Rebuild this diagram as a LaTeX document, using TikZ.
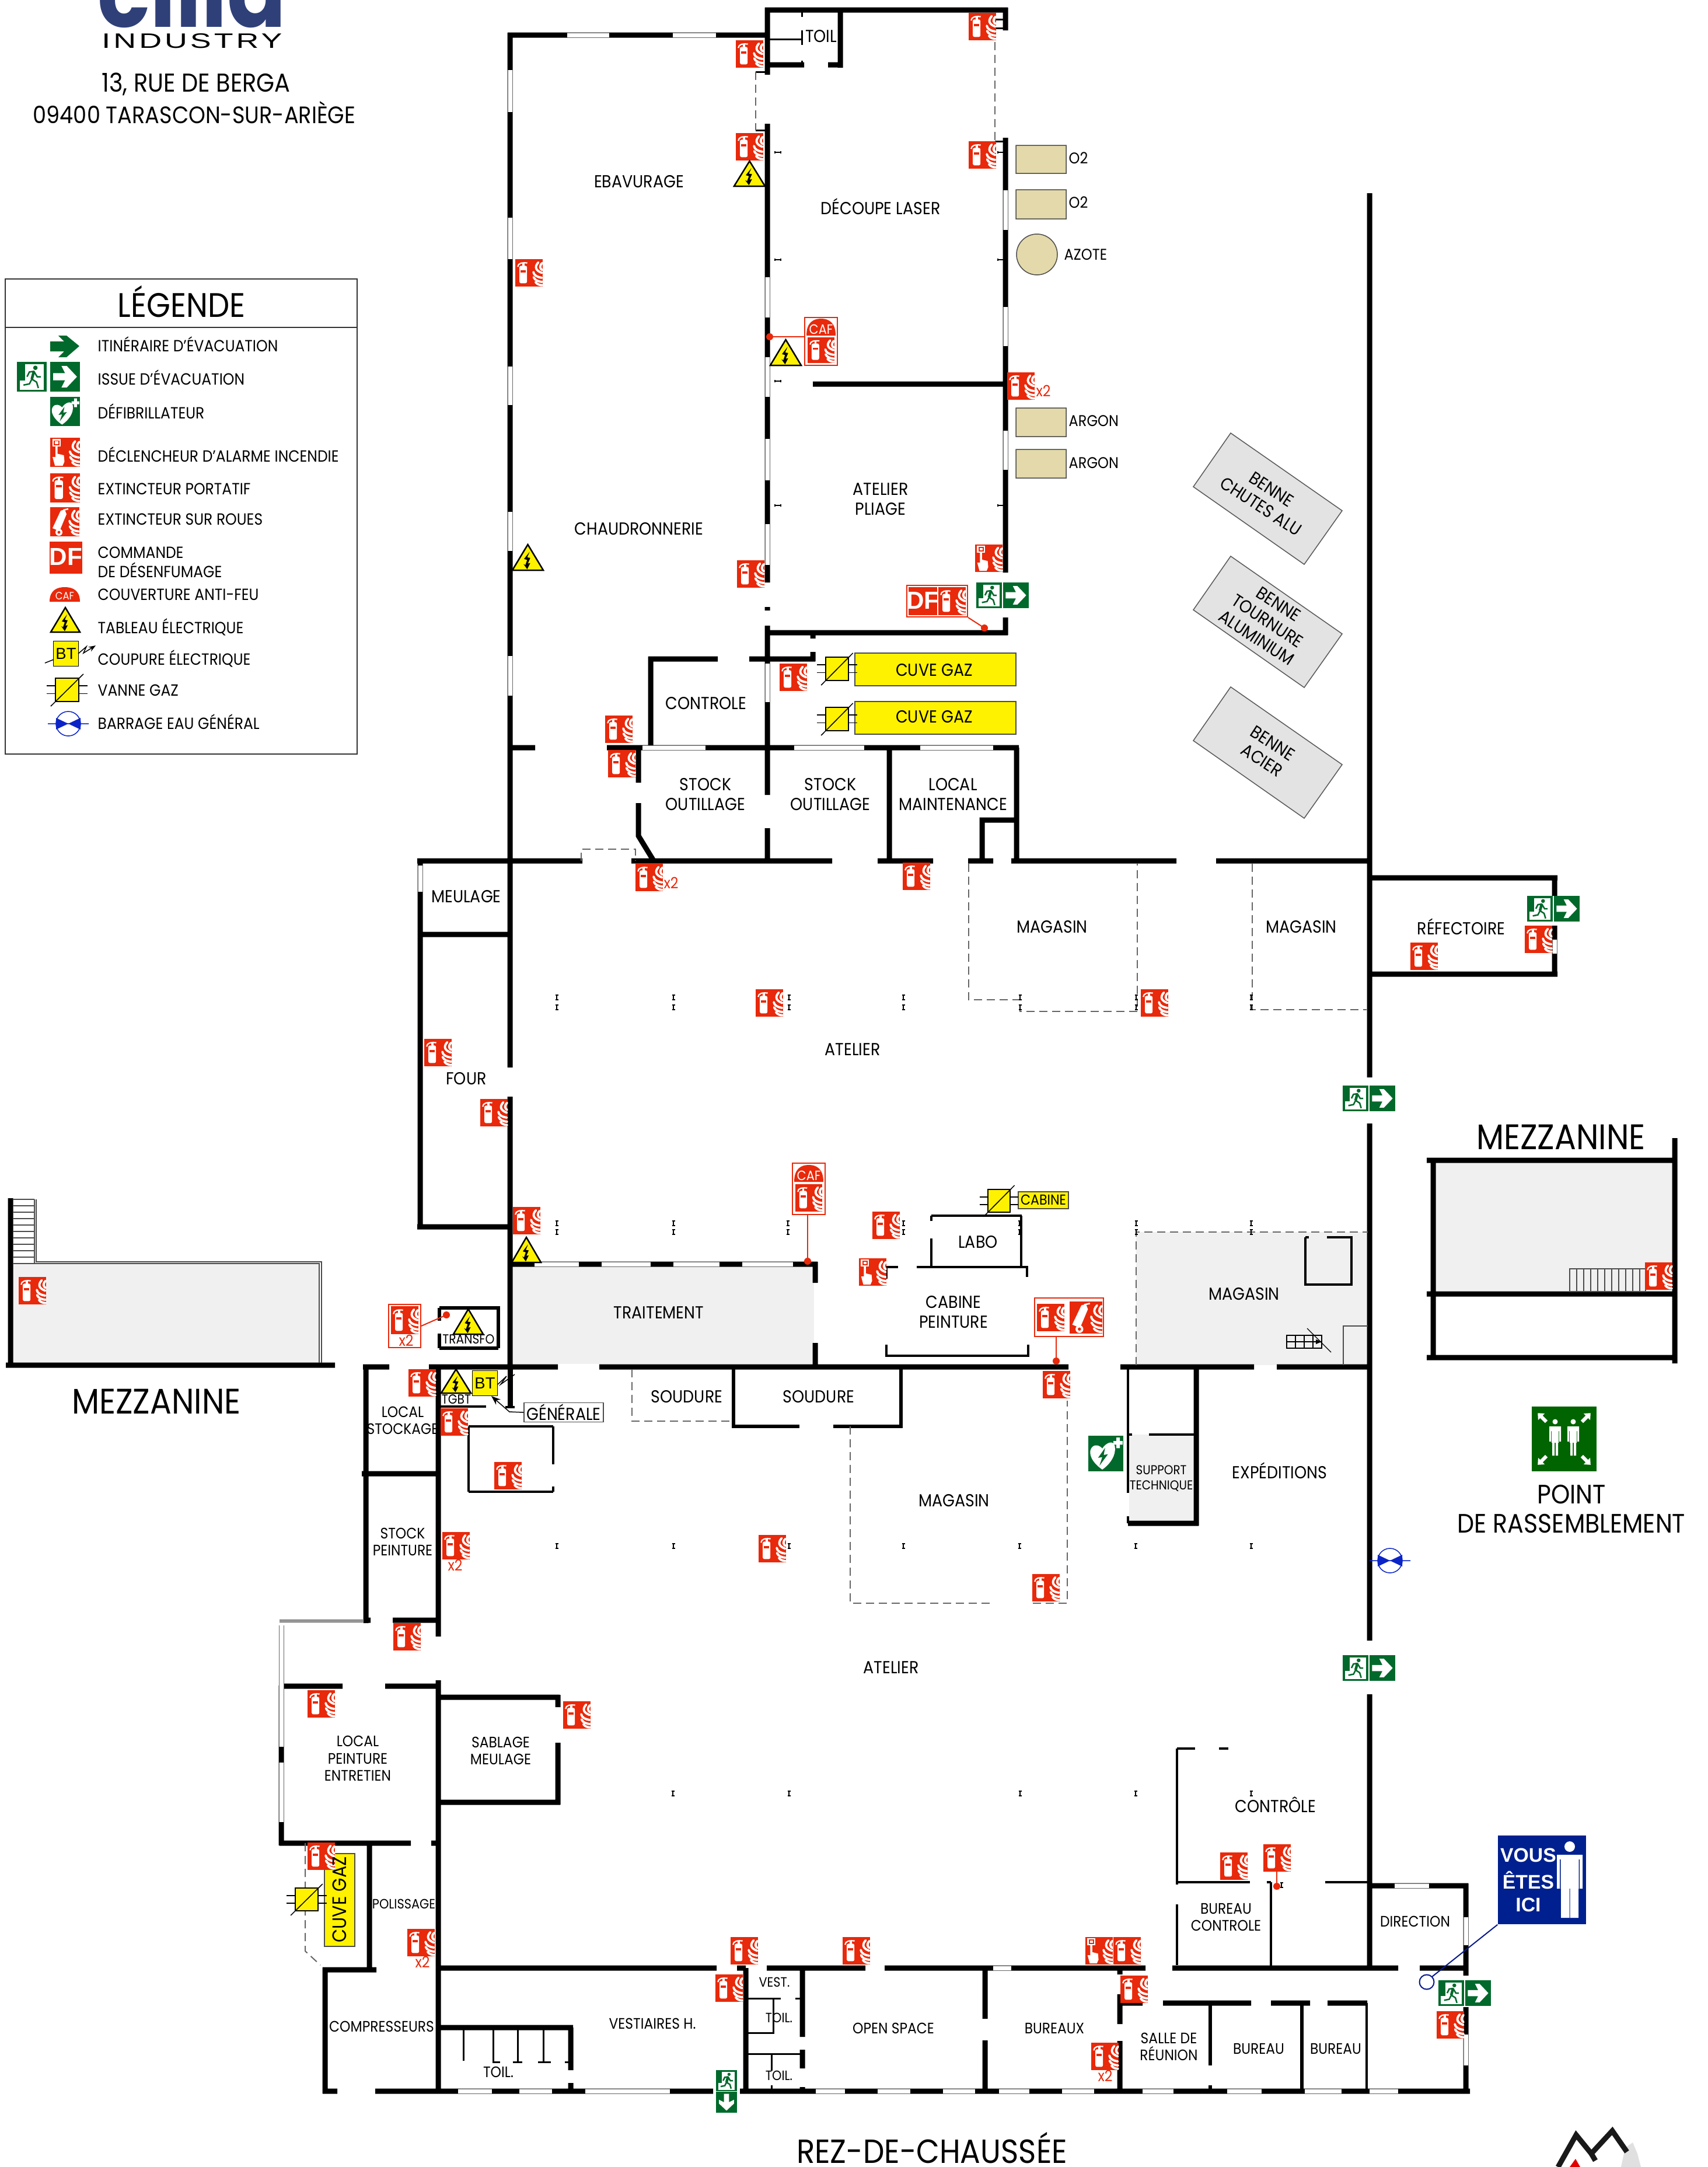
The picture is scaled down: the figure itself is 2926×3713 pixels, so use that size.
\documentclass[tikz,border=0pt]{standalone}
\usepackage{fontspec}
\setmainfont[FakeStretch=0.9]{Poppins}
\newfontfamily\indf[FakeStretch=1.5,LetterSpace=14]{Liberation Sans}
\newfontfamily\ars{Liberation Sans}
\usetikzlibrary{arrows.meta}
\definecolor{sred}{HTML}{E8290B}
\definecolor{sgreen}{HTML}{00692B}
\definecolor{ptgreen}{HTML}{006400}
\definecolor{tank}{HTML}{E3D9AA}
\definecolor{bgrey}{HTML}{F0F0F0}
\definecolor{bluesign}{HTML}{00208F}
\definecolor{valveb}{HTML}{0A24C8}
\definecolor{logob}{HTML}{2F4078}
\newcounter{nn}
\newcommand\sz[1]{\pgfmathsetmacro\lsk{#1*1.14}\fontsize{#1}{\lsk}\selectfont}
\tikzset{
 wall/.style={line width=0.9mm,black},
 wallm/.style={line width=0.6mm,black},
 walls/.style={line width=0.35mm,black},
 dashw/.style={line width=0.2mm,black!60,dash pattern=on 1.4mm off 0.8mm},
 winw/.style={line width=0.75mm,white},
 lab/.style={inner sep=0pt,align=center,text=black},
 leader/.style={line width=0.2mm,sred},
 redbox/.style={draw=sred,line width=0.2mm,fill=white,inner sep=0pt},
 thinl/.style={line width=0.15mm,black},
}
\newcommand\lb[4][8.5]{\stepcounter{nn}\node[lab,font=\sz{#1}] (t\arabic{nn}) at (#2,#3) {#4};}
\newcommand\lbase[4][8.5]{\stepcounter{nn}\node[inner sep=0pt,anchor=base,font=\sz{#1}] (t\arabic{nn}) at (#2,#3) {#4};}
\newcommand\lf[4][7.9]{\stepcounter{nn}\node[lab,anchor=west,font=\sz{#1}] (t\arabic{nn}) at (#2,#3) {#4};}
\newcommand\hw[3]{\draw[winw] (#2,#1) -- (#3,#1); \draw[line width=0.1mm,black!60] (#2,#1-4) -- (#3,#1-4) (#2,#1+4) -- (#3,#1+4);}
\newcommand\vw[3]{\draw[winw] (#1,#2) -- (#1,#3); \draw[line width=0.1mm,black!60] (#1+4,#2) -- (#1+4,#3) (#1-4,#2) -- (#1-4,#3);}
\newcommand\flames{%
 \draw[white,line width=0.38mm,line cap=round]
 (0.84,0.12) .. controls (0.68,0.3) and (0.76,0.42) .. (0.97,0.5)
 (0.98,0.14) .. controls (0.87,0.26) and (0.9,0.34) .. (0.98,0.4)
 (0.66,0.47) .. controls (0.68,0.6) and (0.82,0.66) .. (0.97,0.68)
 (0.67,0.66) .. controls (0.72,0.78) and (0.86,0.82) .. (0.98,0.83)
 (0.74,0.84) .. controls (0.8,0.92) and (0.9,0.95) .. (0.98,0.95);}
\newcommand\icoExt[4]{\begin{scope}[shift={(#1,#2)},xscale=#3,yscale=#4]
 \fill[sred] (0,0) rectangle (1,1);
 \fill[white,rounded corners=0.3mm] (0.15,0.24) rectangle (0.43,0.88);
 \fill[white] (0.25,0.14) rectangle (0.33,0.25);
 \fill[sred] (0.19,0.4) rectangle (0.39,0.48);
 \draw[white,line width=0.22mm] (0.09,0.28) .. controls (0.1,0.14) and (0.25,0.12) .. (0.44,0.14);
 \flames
\end{scope}}
\newcommand\icoAlarm[4]{\begin{scope}[shift={(#1,#2)},xscale=#3,yscale=#4]
 \fill[sred] (0,0) rectangle (1,1);
 \fill[white] (0.07,0.04) rectangle (0.36,0.3);
 \fill[sred] (0.12,0.09) rectangle (0.31,0.25);
 \fill[white] (0.16,0.12) rectangle (0.27,0.22);
 \fill[white] (0.18,0.3) -- (0.25,0.3) -- (0.25,0.55) -- (0.46,0.6) -- (0.48,0.82) -- (0.42,0.96) -- (0.16,0.96) -- (0.08,0.66) -- (0.18,0.66) -- cycle;
 \flames
\end{scope}}
\newcommand\icoWheel[4]{\begin{scope}[shift={(#1,#2)},xscale=#3,yscale=#4]
 \fill[sred] (0,0) rectangle (1,1);
 \fill[white] (0.08,0.72) -- (0.36,0.12) -- (0.5,0.08) -- (0.56,0.24) -- (0.32,0.82) -- cycle;
 \fill[white] (0.3,0.86) circle[radius=0.12];
 \fill[sred] (0.3,0.86) circle[radius=0.05];
 \draw[white,line width=0.25mm] (0.45,0.1) -- (0.62,0.06);
 \flames
\end{scope}}
\newcommand\icoMan[4]{\begin{scope}[shift={(#1,#2)},xscale=#3,yscale=#4]
 \fill[sgreen] (0,0) rectangle (1,1);
 \fill[white] (0.1,0.08) rectangle (0.9,0.94);
 \fill[sgreen] (0.1,0.08) rectangle (0.28,0.62);
 \fill[sgreen] (0.62,0.2) circle[radius=0.075];
 \draw[sgreen,line width=0.45mm] (0.57,0.32) -- (0.5,0.58);
 \draw[sgreen,line width=0.25mm] (0.34,0.5) -- (0.42,0.34) -- (0.57,0.32) -- (0.68,0.5) -- (0.8,0.5)
   (0.5,0.58) -- (0.66,0.68) -- (0.72,0.88) (0.5,0.58) -- (0.42,0.74) -- (0.22,0.78);
\end{scope}}
\newcommand\icoArrow[4]{\begin{scope}[shift={(#1,#2)},xscale=#3,yscale=#4]
 \fill[sgreen] (0,0) rectangle (1,1);
 \fill[white] (0.1,0.38) -- (0.5,0.38) -- (0.38,0.14) -- (0.56,0.14) -- (0.9,0.5) -- (0.56,0.86) -- (0.38,0.86) -- (0.5,0.62) -- (0.1,0.62) -- cycle;
\end{scope}}
\newcommand\icoDown[4]{\begin{scope}[shift={(#1,#2)},xscale=#3,yscale=#4]
 \fill[sgreen] (0,0) rectangle (1,1);
 \fill[white] (0.38,0.1) -- (0.38,0.5) -- (0.14,0.38) -- (0.14,0.56) -- (0.5,0.9) -- (0.86,0.56) -- (0.86,0.38) -- (0.62,0.5) -- (0.62,0.1) -- cycle;
\end{scope}}
\newcommand\icoAED[4]{\begin{scope}[shift={(#1,#2)},xscale=#3,yscale=#4]
 \fill[sgreen] (0,0) rectangle (1,1);
 \fill[white] (0.4,0.95) .. controls (0.1,0.75) and (0,0.5) .. (0.08,0.36) .. controls (0.16,0.22) and (0.32,0.26) .. (0.4,0.36) .. controls (0.5,0.2) and (0.72,0.1) .. (0.76,0.3) .. controls (0.8,0.55) and (0.62,0.8) .. (0.4,0.95) -- cycle;
 \fill[sgreen] (0.48,0.34) -- (0.28,0.62) -- (0.4,0.6) -- (0.32,0.84) -- (0.56,0.52) -- (0.44,0.54) -- cycle;
 \fill[white] (0.8,0.05) rectangle (0.9,0.35) (0.72,0.15) rectangle (0.98,0.25);
\end{scope}}
\newcommand\icoTri[4]{\begin{scope}[shift={(#1,#2)},xscale=#3,yscale=#4]
 \filldraw[fill=yellow,draw=black,line width=0.25mm,line join=miter] (0.5,0) -- (1,1) -- (0,1) -- cycle;
 \fill[black] (0.56,0.28) -- (0.38,0.56) -- (0.48,0.6) -- (0.42,0.8) -- (0.36,0.76) -- (0.48,0.96) -- (0.58,0.72) -- (0.5,0.74) -- (0.58,0.52) -- (0.48,0.5) -- cycle;
\end{scope}}
\newcommand\icoVanne[4]{\begin{scope}[shift={(#1,#2)},xscale=#3,yscale=#4]
 \draw[thinl] (-0.38,0.33) -- (0,0.33) (-0.38,0.66) -- (0,0.66) (1,0.33) -- (1.38,0.33) (1,0.66) -- (1.38,0.66);
 \filldraw[fill=yellow,draw=black,line width=0.15mm] (0,0) rectangle (1,1);
 \draw[thinl] (-0.2,1.2) -- (1.2,-0.18);
\end{scope}}
\newcommand\icoCaf[5][6.6]{\begin{scope}[shift={(#2,#3)},xscale=#4,yscale=#5]
 \fill[sred] (0,1) .. controls (0,0.2) and (0.25,0) .. (0.5,0) .. controls (0.75,0) and (1,0.2) .. (1,1) -- cycle;
 \stepcounter{nn}\node[lab,text=white,font=\sz{#1}] (t\arabic{nn}) at (0.5,0.62) {CAF};
\end{scope}}
\newcommand\icoDF[4]{\begin{scope}[shift={(#1,#2)},xscale=#3,yscale=#4]
 \fill[sred] (0,0) rectangle (1,1);
 \stepcounter{nn}\node[lab,text=white,font=\ars\bfseries\fontsize{12}{13}\selectfont] (t\arabic{nn}) at (0.5,0.48) {DF};
\end{scope}}
\newcommand\icoBT[2]{\stepcounter{nn}\node[draw=black,line width=0.15mm,fill=yellow,inner sep=0pt,minimum width=43*0.1mm,minimum height=43*0.1mm,font=\ars\fontsize{7.8}{9}\selectfont] (t\arabic{nn}) at (#1+21,#2+21) {BT};}
\newcommand\icoValve[2]{\begin{scope}[shift={(#1,#2)}]
 \draw[valveb,line width=0.15mm] (-35,0) -- (35,0) (0,0) circle[radius=21];
 \fill[valveb] (-21,-10) -- (0,0) -- (-21,10) -- cycle (21,-10) -- (0,0) -- (21,10) -- cycle;
\end{scope}}
\begin{document}
\begin{tikzpicture}[x=0.1mm,y=-0.1mm,line cap=butt,line join=miter]
\useasboundingbox (0,0) rectangle (2926,3713);
\fill[white] (0,0) rectangle (2926,3713);

% --- header
\stepcounter{nn}\node[inner sep=0pt,text=logob,anchor=base,font=\bfseries\fontsize{47}{49}\selectfont] (logotext) at (329,46) {cilia};
\stepcounter{nn}\node[lab,font=\indf\fontsize{10.2}{11}\selectfont] (indus) at (329,70) {INDUSTRY};
\lb[12.6]{336}{144}{13, RUE DE BERGA}
\lb[11.6]{333}{193}{09400 TARASCON-SUR-ARIÈGE}

% --- legend
\draw[line width=0.2mm,black!80] (9,478) rectangle (612,1292) (9,561) -- (612,561);
\lb[16.6]{311}{517}{LÉGENDE}
\fill[sgreen] (86,585) -- (110,585) -- (100,575) -- (114,575) -- (136,593) -- (114,612) -- (100,612) -- (110,602) -- (86,602) -- cycle;
\icoMan{29}{620}{51}{51}\icoArrow{86}{620}{51}{51}
\icoAED{86}{680}{51}{50}
\icoAlarm{86}{750}{51}{50}
\icoExt{86}{811}{51}{50}
\icoWheel{86}{869}{50}{50}
\icoDF{85}{928}{56}{55}
\icoCaf[5.2]{85}{1006}{52}{25}
\icoTri{87}{1041}{50}{42}
\icoBT{92}{1099}
\draw[thinl] (77,1136) -- (92,1130);
\coordinate (lbt) at (134,1120);
\draw[thinl,-{Stealth[length=1.2mm]}] (lbt) -- (148,1108) -- (143,1119) -- (164,1106);
\icoVanne{95}{1162}{40}{40}
\icoValve{117}{1240}
\lf{167}{590}{ITINÉRAIRE D{\char39}ÉVACUATION}
\lf{167}{647}{ISSUE D{\char39}ÉVACUATION}
\lf{167}{705}{DÉFIBRILLATEUR}
\lf{167}{779}{DÉCLENCHEUR D{\char39}ALARME INCENDIE}
\lf{167}{838}{EXTINCTEUR PORTATIF}
\lf{167}{890}{EXTINCTEUR SUR ROUES}
\lf{167}{947}{COMMANDE}
\lf{167}{977}{DE DÉSENFUMAGE}
\lf{167}{1019}{COUVERTURE ANTI-FEU}
\lf{167}{1074}{TABLEAU ÉLECTRIQUE}
\lf{167}{1128}{COUPURE ÉLECTRIQUE}
\lf{167}{1183}{VANNE GAZ}
\lf{167}{1237}{BARRAGE EAU GÉNÉRAL}

% --- grey areas
\fill[bgrey] (879,2170) rectangle (1395,2337);
\fill[bgrey] (1947,2111) rectangle (2344,2339);
\fill[bgrey] (1935,2458) rectangle (2048,2610);
\fill[bgrey] (2456,1992) rectangle (2866,2212);
\fill[bgrey] (22,2165) rectangle (547,2335);

% --- benne
\foreach \d in {0,211,435}{
 \filldraw[fill=black!11,draw=black!65,line width=0.15mm] (2109,742+\d) -- (2300,875+\d) -- (2235,967+\d) -- (2045,834+\d) -- cycle;}
\node[lab,rotate=-33,font=\sz{8.6}] (benne1) at (2170,853) {BENNE\\CHUTES ALU};
\node[lab,rotate=-33,font=\sz{8.6}] (benne2) at (2172,1064) {BENNE\\TOURNURE\\ALUMINIUM};
\node[lab,rotate=-33,font=\sz{8.6}] (benne3) at (2172,1288) {BENNE\\ACIER};

% --- tanks
\filldraw[fill=tank,draw=black!70,line width=0.15mm] (1741,249) rectangle (1827,297) (1741,325) rectangle (1827,375) (1741,699) rectangle (1827,748) (1741,770) rectangle (1827,819) (1777,436) circle[radius=35];
\lf[7.6]{1831}{271}{O2}\lf[7.6]{1831}{347}{O2}\lf[7.6]{1823}{436}{AZOTE}\lf[7.6]{1831}{721}{ARGON}\lf[7.6]{1831}{793}{ARGON}

% --- cuves
\filldraw[fill=yellow,draw=black!70,line width=0.15mm] (1465,1119) rectangle (1741,1175) (1465,1202) rectangle (1741,1258) (556,3176) rectangle (608,3335) (1745,2042) rectangle (1831,2071);

% --- walls
\draw[wall]
 (870,60) -- (1315,60)
 (874,56) -- (874,1829) (874,1879) -- (874,2346)
 (1315,13) -- (1315,128) (1315,212) -- (1315,998) (1315,1040) -- (1315,1046) (1315,1072) -- (1315,1362) (1315,1419) -- (1315,1475)
 (1311,17) -- (1727,17) (1440,13) -- (1440,116)
 (1315,111) -- (1378,111) (1419,111) -- (1444,111)
 (1723,13) -- (1723,52) (1723,236) -- (1723,981) (1723,1058) -- (1723,1088)
 (1393,658) -- (1723,658) (1311,1084) -- (1727,1084)
 (874,1281) -- (917,1281)
 (1040,1281) -- (1746,1281)
 (1115,1125) -- (1115,1281)
 (1111,1129) -- (1230,1129) (1284,1129) -- (1397,1129)
 (1393,1117) -- (1393,1133) (1393,1088) -- (1393,1094)
 (1094,1281) -- (1094,1341) (1094,1376) -- (1094,1432) -- (1119,1473)
 (715,1475) -- (998,1475) (1082,1475) -- (1426,1475) (1504,1475) -- (1599,1475) (1659,1475) -- (1702,1475) (1733,1475) -- (2016,1475) (2084,1475) -- (2347,1475)
 (1524,1281) -- (1524,1475) (1742,1281) -- (1742,1475)
 (1683,1475) -- (1683,1405) -- (1746,1405)
 (720,1471) -- (720,2106) (716,1601) -- (874,1601) (715,2102) -- (874,2102)
 (2347,331) -- (2347,1846) (2347,1925) -- (2347,2811) (2347,2903) -- (2347,3371)
 (2347,1504) -- (2669,1504) (2664,1500) -- (2664,1535) (2664,1586) -- (2664,1673) (2347,1669) -- (2669,1669)
 (871,2166) -- (1401,2166)
 (1397,2162) -- (1397,2198) (1397,2301) -- (1397,2342)
 (735,2342) -- (956,2342) (1027,2342) -- (1831,2342) (1920,2342) -- (2149,2342) (2188,2342) -- (2351,2342)
 (622,2342) -- (667,2342) (627,2338) -- (627,2781) (620,2525) -- (751,2525) (623,2776) -- (635,2776) (673,2776) -- (755,2776)
 (751,2338) -- (751,2804) (751,2879) -- (751,3587)
 (479,2889) -- (587,2889) (660,2889) -- (751,2889)
 (482,2888) -- (482,3162) (479,3158) -- (704,3158) (739,3158) -- (751,3158)
 (633,3158) -- (633,3375) (553,3375) -- (645,3375)
 (557,3371) -- (557,3587)
 (553,3583) -- (578,3583) (643,3583) -- (1222,3583) (1268,3583) -- (2519,3583)
 (751,2908) -- (959,2908) (956,2904) -- (956,2925) (956,2986) -- (956,3092) (751,3088) -- (960,3088)
 (751,3372) -- (1228,3372) (1263,3372) -- (1278,3372) (1314,3372) -- (1483,3372) (1516,3372) -- (1963,3372) (2009,3372) -- (2396,3372) (2433,3372) -- (2516,3372)
 (1278,3372) -- (1278,3583)
 (1375,3372) -- (1375,3490) (1375,3512) -- (1375,3544) (1375,3576) -- (1375,3583)
 (1688,3372) -- (1688,3459) (1688,3496) -- (1688,3583)
 (751,3474) -- (982,3474) (978,3474) -- (978,3547) (978,3569) -- (978,3583)
 (2347,3231) -- (2516,3231) (2512,3227) -- (2512,3385) (2512,3439) -- (2512,3587)
 (1919,3372) -- (1919,3383) (1919,3417) -- (1919,3468) (1919,3497) -- (1919,3583)
 (1920,3432) -- (1958,3432) (1993,3432) -- (2144,3432) (2178,3432) -- (2245,3432) (2275,3432) -- (2343,3432)
 (2347,3231) -- (2347,3375)
 (2050,2342) -- (2050,2614)
 (1933,2610) -- (2054,2610)
 (2445,1988) -- (2870,1988) (2870,1950) -- (2870,2336) (2456,1988) -- (2456,2326) (2445,2217) -- (2870,2217) (2445,2326) -- (2870,2326)
 (18,2053) -- (18,2338) (10,2339) -- (574,2339);
\draw[wall,line width=0.6mm]
 (1257,2342) -- (1257,2447) (1254,2444) -- (1370,2444) (1428,2444) -- (1547,2444) (1544,2342) -- (1544,2447)
 (753,2241) -- (854,2241) (854,2238) -- (854,2310) (753,2310) -- (854,2310) (753,2241) -- (753,2263) (753,2285) -- (753,2310)
 (2074,3432) -- (2074,3539) (2074,3573) -- (2074,3583)
 (2231,3432) -- (2231,3583);
\draw[walls,line width=0.45mm]
 (803,2444) -- (948,2444) (948,2444) -- (948,2509) (948,2547) -- (948,2556) (803,2556) -- (948,2556) (803,2444) -- (803,2556)
 (1596,2083) -- (1751,2083) (1596,2083) -- (1596,2092) (1596,2122) -- (1596,2171) (1750,2083) -- (1750,2171)
 (1519,2171) -- (1539,2171) (1571,2171) -- (1762,2171) (1760,2171) -- (1760,2188) (1519,2171) -- (1519,2191)
 (1519,2304) -- (1519,2323) -- (1762,2323) -- (1762,2304)
 (2237,2120) -- (2243,2120) (2274,2120) -- (2316,2120) -- (2316,2201) -- (2237,2201) -- (2237,2120)
 (1933,2342) -- (1933,2558) (1933,2598) -- (1933,2610) (1933,2458) -- (1940,2458) (1969,2458) -- (2050,2458)
 (2017,2996) -- (2048,2996) (2089,2996) -- (2105,2996) (2017,2996) -- (2017,3229) (2017,3263) -- (2017,3367)
 (2017,3225) -- (2142,3225) (2171,3225) -- (2178,3225) (2271,3225) -- (2347,3225) (2178,3225) -- (2178,3371)
 (2342,3432) -- (2342,3583)
 (751,2410) -- (833,2410) (866,2411) -- (882,2411);
\draw[wall] (874,2342) -- (874,2411);
\draw[thinl,line width=0.3mm]
 (1319,67) -- (1374,67) (1374,52) -- (1374,77) (1374,21) -- (1374,29) (1374,104) -- (1374,112)
 (1705,33) -- (1723,33) (1705,48) -- (1723,48)
 (1295,123) -- (1312,123) (1295,223) -- (1312,223) (1705,242) -- (1720,242)
 (1278,3424) -- (1338,3424) (1363,3424) -- (1375,3424) (1325,3424) -- (1325,3483) -- (1278,3483) (1278,3519) -- (1375,3519) (1322,3519) -- (1322,3548) (1322,3573) -- (1322,3583)
 (794,3474) -- (794,3531) (845,3474) -- (845,3533) -- (857,3533) (887,3474) -- (887,3533) (879,3533) -- (895,3533) (931,3474) -- (931,3533) (922,3533) -- (944,3533) (968,3533) -- (978,3533);
% windows
\foreach \a/\b in {120/192,373/444,628/694,877/944,1124/1192}{\vw{874}{\a}{\b}}
\foreach \a/\b in {475/544,612/680,752/823,898/968,1137/1203}{\vw{1315}{\a}{\b}}
\foreach \a/\b in {326/394,526/593,738/805}{\vw{1723}{\a}{\b}}
\foreach \a/\b in {972/1044,1153/1227}{\hw{60}{\a}{\b}}
\foreach \a/\b in {1101/1209,1361/1481,1577/1702}{\hw{1281}{\a}{\b}}
\foreach \a/\b in {916/992,1031/1115,1154/1233,1272/1359}{\hw{2166}{\a}{\b}}
\foreach \a/\b in {785/843,890/946,1003/1148,1398/1448,1504/1560,1616/1671,1712/1764,1820/1875,1958/2011,2103/2162,2236/2299,2347/2396}{\hw{3583}{\a}{\b}}
\hw{3372}{1702}{1733}
\hw{3231}{2390}{2449}
\vw{720}{1483}{1528}
\vw{2664}{1610}{1634}
\vw{2512}{3285}{3333}\vw{2512}{3486}{3539}
\vw{482}{2889}{2993}\vw{482}{3020}{3122}
\vw{482}{2785}{2889}
\draw[line width=0.15mm,black!60] (479,2779) -- (622,2779) (479,2776) -- (622,2776);

% dashed
\draw[dashw] (1295,123) -- (1295,223);
\draw[dashw] (1705,50) -- (1705,242);
\draw[dashw] (996,1475) -- (996,1455) -- (1089,1455) -- (1089,1475);
\draw[dashw] (1660,1480) -- (1660,1713) -- (1748,1713) -- (1748,1733) -- (1949,1733) -- (1949,1480);
\draw[dashw] (2146,1480) -- (2146,1730) -- (2342,1730);
\draw[dashw] (1947,2339) -- (1947,2111) -- (2344,2111);
\draw[dashw] (1083,2346) -- (1083,2435) -- (1257,2435);
\draw[dashw] (1457,2444) -- (1457,2747) -- (1699,2747) (1770,2747) -- (1829,2747) -- (1829,2400);
\draw[dashw] (523,3158) -- (523,3343) -- (549,3367);

% mezzanine details
\draw[line width=0.15mm,black!70] (59,2055) -- (59,2165) -- (547,2165) -- (547,2335) (62,2055) -- (62,2162) -- (551,2162) -- (551,2335);
\foreach \k in {0,...,10}{\draw[line width=0.2mm,black!70] (22,2055+\k*11) -- (59,2055+\k*11);}
\draw[line width=0.12mm,black!70] (2690,2174) rectangle (2820,2213);
\foreach \k in {1,...,10}{\draw[line width=0.12mm,black!70] (2690+\k*12,2174) -- (2690+\k*12,2213);}
\draw[line width=0.12mm,black!70] (2302,2339) -- (2302,2272) -- (2344,2272);
\draw[line width=0.12mm,black] (2205,2288) rectangle (2265,2310) (2205,2299) -- (2265,2299) (2220,2288) -- (2220,2310) (2235,2288) -- (2235,2310) (2250,2288) -- (2250,2310);
\draw[line width=0.12mm,black] (2240,2276) -- (2281,2317);
\fill[black] (2255,2295) -- (2265,2299) -- (2255,2303) -- cycle;

% ticks
\foreach \x/\y in {1333/261,1333/445,1333/653,1333/866,1715/261,1715/445,1715/866}{\draw[line width=0.15mm,black] (\x-5,\y) -- (\x+5,\y) (\x-5,\y-2) -- (\x-5,\y+2) (\x+5,\y-2) -- (\x+5,\y+2);}
\foreach \x/\y in {954/1709,954/1726,1154/1709,1154/1726,1352/1709,1352/1726,1548/1709,1548/1726,1748/1709,1748/1726,1947/1709,1947/1726,2144/1709,2144/1726,
 954/2096,954/2111,1154/2096,1154/2111,1350/2096,1350/2111,1548/2096,1548/2111,1747/2096,1747/2111,1947/2096,1947/2111,2144/2096,2144/2111,
 954/2649,1154/2649,1352/2649,1548/2649,1747/2649,1946/2649,2144/2649,
 1153/3073,1352/3073,1748/3073,1946/3073,2144/3073,2196/3230}{\draw[line width=0.15mm,black] (\x,\y-4) -- (\x,\y+4) (\x-2.5,\y-4) -- (\x+2.5,\y-4) (\x-2.5,\y+4) -- (\x+2.5,\y+4);}

% extinguishers
\foreach \x/\y in {1261/69,1660/22,1261/228,1660/242,883/444,1263/960,1726/638,1336/1137,1037/1226,1042/1285,1089/1480,1547/1478,1295/1695,727/1780,823/1883,1955/1695,2417/1615,2613/1586,879/2068,1495/2076,32/2188,700/2346,755/2413,847/2505,758/2625,1300/2630,1787/2349,1769/2697,674/2781,527/2896,965/2915,527/3157,698/3305,1252/3319,1444/3319,1226/3383,2091/3174,2165/3160,1908/3319,1920/3385,1870/3500,2462/3446,2819/2163}{\icoExt{\x}{\y}{47}{47}}
\foreach \x/\y in {1671/933,1472/2156,1860/3319}{\icoAlarm{\x}{\y}{47}{47}}
\lb[7.5]{1788}{670}{\textcolor{sred}{x2}}
\lb[7.5]{1150}{1513}{\textcolor{sred}{x2}}
\lb[7.5]{780}{2682}{\textcolor{sred}{x2}}
\lb[7.5]{724}{3362}{\textcolor{sred}{x2}}
\lb[7.5]{1894}{3557}{\textcolor{sred}{x2}}

% triangles
\icoTri{1258}{276}{53}{43}\icoTri{1320}{582}{53}{44}\icoTri{878}{933}{53}{44}\icoTri{877}{2120}{50}{43}\icoTri{777}{2243}{51}{43}\icoTri{756}{2346}{51}{41}

% exits
\foreach \x/\y in {1673/998,2617/1535,2301/1860,2301/2836,2465/3393}{\icoMan{\x}{\y}{44}{44}\pgfmathsetmacro\xb{\x+46}\icoArrow{\xb}{\y}{44}{44}}
\icoMan{1227}{3547}{36}{36}\icoDown{1227}{3584}{36}{36}
\icoAED{1865}{2460}{60}{61}

% callouts
\node[redbox,minimum width=56*0.1mm,minimum height=82*0.1mm] (caf1) at (1407,585) {};
\icoCaf{1382}{546}{50}{29}\icoExt{1384}{578}{46}{44}
\coordinate (caf1dot) at (1319,577);
\draw[leader] (caf1.west |- caf1dot) -- (caf1dot);
\fill[sred] (caf1dot) circle[radius=6];
\node[redbox,minimum width=104*0.1mm,minimum height=54*0.1mm] (dfbox) at (1606,1030) {};
\icoDF{1557}{1006}{49}{48}\icoExt{1608}{1006}{47}{48}
\coordinate (dfdot) at (1687,1076);
\draw[leader] (dfbox.south east) -- (dfdot);
\fill[sred] (dfdot) circle[radius=6];
\node[redbox,minimum width=56*0.1mm,minimum height=88*0.1mm] (caf2) at (1386,2037) {};
\icoCaf{1361}{1996}{50}{29}\icoExt{1363}{2029}{46}{47}
\coordinate (caf2dot) at (1384,2161);
\draw[leader] (caf2.south -| caf2dot) -- (caf2dot);
\fill[sred] (caf2dot) circle[radius=6];
\node[redbox,minimum width=55*0.1mm,minimum height=74*0.1mm] (trbox) at (693.5,2272) {};
\icoExt{670}{2238}{47}{48}
\lb[7.5]{696}{2297}{\textcolor{sred}{x2}}
\coordinate (trdot) at (765,2253);
\draw[leader] (trbox.east) -- (trdot);
\node[redbox,minimum width=118*0.1mm,minimum height=66*0.1mm] (cabbox) at (1832,2257) {};
\icoExt{1777}{2234}{47}{47}\icoWheel{1833}{2230}{56}{55}
\coordinate (cabdot) at (1810,2332);
\draw[leader] (cabbox.south -| cabdot) -- (cabdot);
\fill[sred] (cabdot) circle[radius=6];
\coordinate (ctrdot) at (2188,3232);
\draw[leader] (2188,3206) -- (ctrdot);
\fill[sred] (ctrdot) circle[radius=6];
\fill[sred] (trdot) circle[radius=6];

% vannes
\icoVanne{1415}{1126}{39}{40}\icoVanne{1415}{1212}{39}{40}\icoVanne{506}{3235}{39}{39}\icoVanne{1693}{2038}{38}{39}

% BT + generale
\icoBT{810}{2349}
\draw[thinl] (853,2372) -- (868,2358) -- (858,2372) -- (882,2355);
\node[draw=black!70,line width=0.15mm,fill=white,inner sep=0pt,minimum width=136*0.1mm,minimum height=33*0.1mm,font=\sz{8.5}] (gen) at (966,2420) {GÉNÉRALE};
\coordinate (bttip) at (842,2392);
\draw[thinl,-{Stealth[length=1.6mm]}] (gen.west) -- (873,2419) -- (bttip);

% valve
\icoValve{2382}{2674}

% point de rassemblement
\begin{scope}[shift={(2625,2410)}]
 \fill[ptgreen] (0,0) rectangle (111,111);
 \foreach \cx in {40,71}{
 \fill[white] (\cx,26) circle[radius=4.5];
 \fill[white] (\cx-10,34) rectangle (\cx+10,42) (\cx-10,34) rectangle (\cx-7,60) (\cx+7,34) rectangle (\cx+10,60) (\cx-6,40) rectangle (\cx+6,62) (\cx-5,62) rectangle (\cx-1,84) (\cx+1,62) rectangle (\cx+5,84);}
 \foreach \cx/\cy/\r in {18/19/135,93/19/45,18/92/225,93/92/-45}{
 \begin{scope}[shift={(\cx,\cy)},rotate=\r]
 \fill[white] (-10,-3) -- (2,-3) -- (2,-8) -- (11,0) -- (2,8) -- (2,3) -- (-10,3) -- cycle;
 \end{scope}}
\end{scope}
\lbase[13]{2693}{2576}{POINT}
\lbase[13]{2693}{2626}{DE RASSEMBLEMENT}

% vous etes ici
\node[fill=bluesign,inner sep=0pt,minimum width=151*0.1mm,minimum height=152*0.1mm] (vei) at (2642.5,3221) {};
\node[lab,text=white,font=\ars\bfseries\fontsize{9.6}{12}\selectfont] (v1) at (2619,3179) {VOUS};
\node[lab,text=white,font=\ars\bfseries\fontsize{9.6}{12}\selectfont] (v2) at (2619,3222) {ÊTES};
\node[lab,text=white,font=\ars\bfseries\fontsize{9.6}{12}\selectfont] (v3) at (2619,3264) {ICI};
\fill[white] (2690,3164) circle[radius=9];
\fill[white] (2668,3178) rectangle (2712,3236) (2675,3178) rectangle (2705,3286);
\fill[bluesign] (2673,3186) rectangle (2674.5,3236) (2705.5,3186) rectangle (2707,3236) (2689.5,3236) rectangle (2690.5,3286);
\coordinate (veidot) at (2445,3396);
\draw[line width=0.2mm,valveb!70!black] (veidot) circle[radius=12.5];
\draw[line width=0.2mm,valveb!70!black] (2454,3387) -- (vei.south west);

% room labels
\lb{1095}{311}{EBAVURAGE}
\lb{1095}{906}{CHAUDRONNERIE}
\lb{1509}{354}{DÉCOUPE LASER}
\lb{1509}{855}{ATELIER\\PLIAGE}
\lb[8.5]{1407}{62}{TOIL}
\lb{1210}{1205}{CONTROLE}
\lb{1209}{1361}{STOCK\\OUTILLAGE}
\lb{1423}{1361}{STOCK\\OUTILLAGE}
\lb{1633}{1361}{LOCAL\\MAINTENANCE}
\lb{799}{1536}{MEULAGE}
\lb{799}{1848}{FOUR}
\lb{1461}{1798}{ATELIER}
\lb{1803}{1588}{MAGASIN}
\lb{2230}{1588}{MAGASIN}
\lb{2504}{1588}{RÉFECTOIRE}
\lb{1601}{1148}{CUVE GAZ}
\lb{1601}{1228}{CUVE GAZ}
\lb{1129}{2249}{TRAITEMENT}
\lb{1177}{2393}{SOUDURE}
\lb{1403}{2393}{SOUDURE}
\lb{1676}{2128}{LABO}
\lb{1634}{2248}{CABINE\\PEINTURE}
\lb[7]{1788}{2056}{CABINE}
\lb{2132}{2217}{MAGASIN}
\lb{1635}{2571}{MAGASIN}
\lb{2193}{2520}{EXPÉDITIONS}
\lb[6.3]{1990}{2533}{SUPPORT\\TECHNIQUE}
\lb[7.4]{690}{2434}{LOCAL\\STOCKAGE}
\lb[7.4]{690}{2642}{STOCK\\PEINTURE}
\lb[6.4]{803}{2295}{TRANSFO}
\lb[6.4]{782}{2398}{TGBT}
\lb{1527}{2857}{ATELIER}
\lb[7.4]{613}{3013}{LOCAL\\PEINTURE\\ENTRETIEN}
\lb[7.4]{858}{3000}{SABLAGE\\MEULAGE}
\lb[6.6]{692}{3262}{POLISSAGE}
\lb[7.4]{654}{3472}{COMPRESSEURS}
\lb[7.4]{854}{3550}{TOIL.}
\lb[7.4]{1118}{3467}{VESTIAIRES H.}
\lb[6.6]{1327}{3396}{VEST.}
\lb[6.6]{1335}{3457}{TOIL.}
\lb[6.6]{1335}{3556}{TOIL.}
\lb{2186}{3092}{CONTRÔLE}
\lb[7.4]{2101}{3285}{BUREAU\\CONTROLE}
\lb[7.4]{2425}{3292}{DIRECTION}
\lb[7.4]{1807}{3475}{BUREAUX}
\lb[7.4]{1531}{3475}{OPEN SPACE}
\lb[7.4]{2003}{3507}{SALLE DE\\RÉUNION}
\lb[7.4]{2157}{3510}{BUREAU}
\lb[7.4]{2289}{3510}{BUREAU}
\stepcounter{nn}\node[lab,rotate=90,font=\sz{9.5}] (cuve3) at (582,3255) {CUVE GAZ};
\lbase[17.3]{268}{2422}{MEZZANINE}
\lbase[17.3]{2675}{1969}{MEZZANINE}
\lbase[16.3]{1597}{3706}{REZ-DE-CHAUSSÉE}

% logo
\fill[black!12] (2778,3713) -- (2785,3680) -- (2798,3671) -- (2806,3690) -- (2812,3713) -- cycle;
\draw[line width=0.9mm,black!90] (2670,3713) -- (2701,3658) -- (2727,3690) -- (2763,3651) -- (2788,3687);
\draw[line width=0.9mm,black!90] (2727,3690) -- (2734,3702);
\fill[red!90!black] (2690,3713) -- (2700,3699) -- (2708,3713) -- cycle;
\end{tikzpicture}
\end{document}
